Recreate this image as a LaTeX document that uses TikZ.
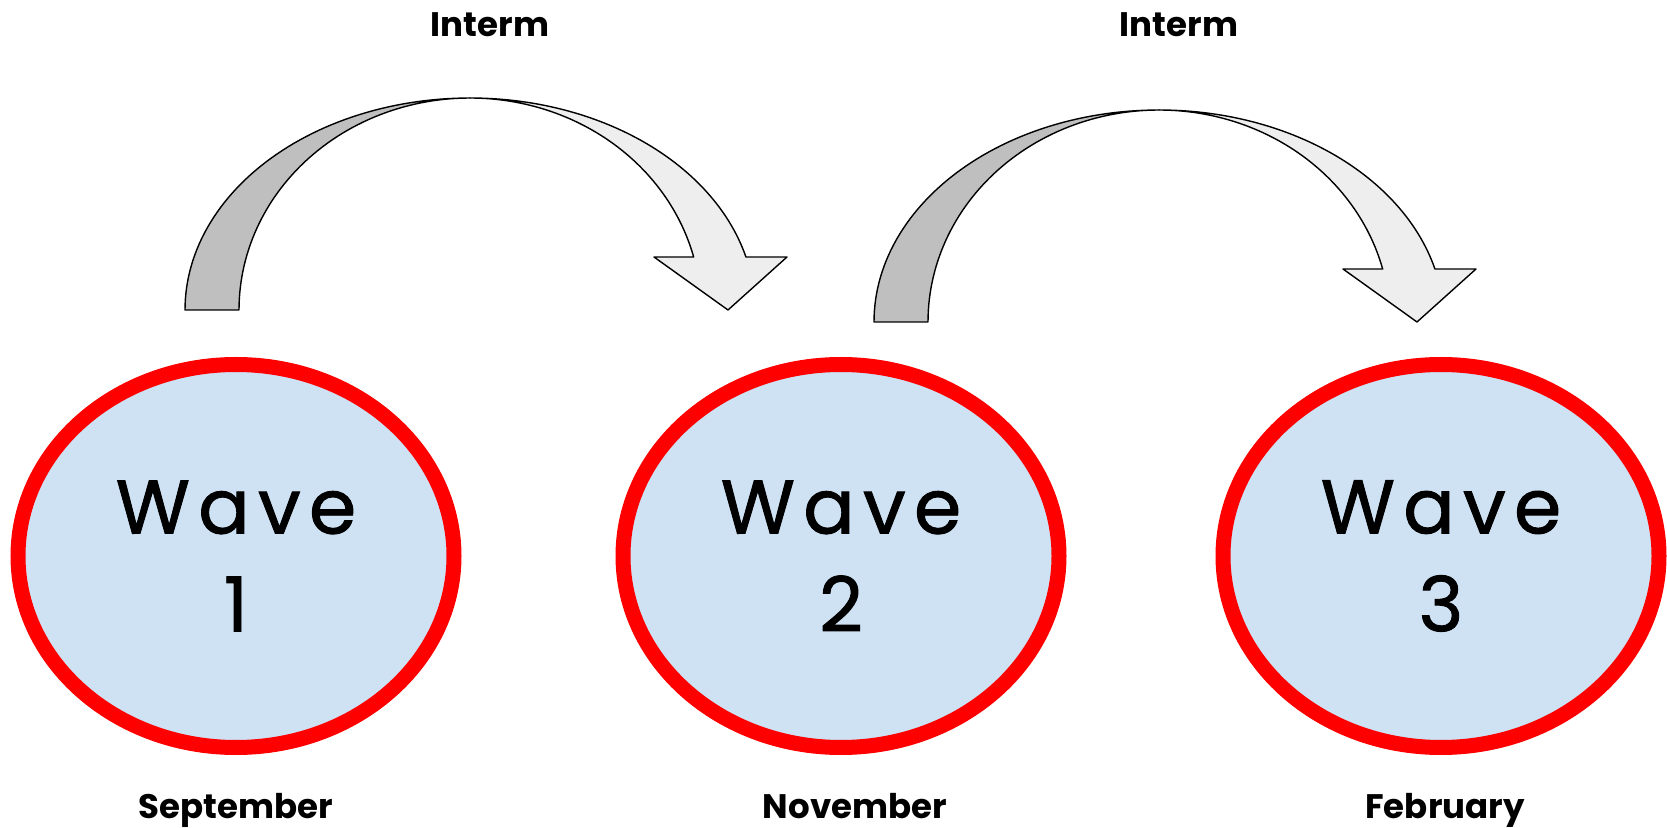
\documentclass[tikz,border=0pt]{standalone}
\usepackage{fontspec}
\setmainfont{Poppins}
\newfontfamily\wavefont{Poppins}[LetterSpace=11, FakeBold=1.2]
\usetikzlibrary{shapes.geometric}

\definecolor{waveRed}{RGB}{255,0,0}
\definecolor{waveBlue}{RGB}{207,226,243}
\definecolor{arrowDark}{RGB}{191,191,191}
\definecolor{arrowLight}{RGB}{238,238,238}

\tikzset{
  wavebubble/.style={ellipse, draw=waveRed, line width=7.5pt, fill=waveBlue,
    minimum width=218pt, minimum height=191.5pt, inner sep=0pt,
    align=center, font=\wavefont\fontsize{38}{49}\selectfont},
  toplabel/.style={anchor=base, font=\bfseries\fontsize{17}{20}\selectfont},
  monthlabel/.style={anchor=base, font=\bfseries\fontsize{17}{20}\selectfont},
  arrowline/.style={draw=black, line width=0.7pt, line join=round},
  % curved block arrow: a twisted band between two half ellipses with a head
  bendarrow/.pic={
    \path[arrowline, fill=arrowDark]
      plot[domain=180:90, samples=60] ({285*cos(\x)}, {-212*sin(\x)})
      -- plot[domain=90:180, samples=60] ({231*cos(\x)}, {-212*sin(\x)})
      -- cycle;
    \path[arrowline, fill=arrowLight]
      plot[domain=90:14.48, samples=60] ({285*cos(\x)}, {-212*sin(\x)})
      -- (317,-53) -- (258,0) -- (184,-53)
      -- plot[domain=14.48:90, samples=60] ({231*cos(\x)}, {-212*sin(\x)})
      -- cycle;
  }
}

\begin{document}
\begin{tikzpicture}[x=0.5pt, y=-0.5pt]
  \useasboundingbox (0,0) rectangle (1667,828);

  % the three waves
  \node[wavebubble] (w1) at (236,556) {Wave\\1};
  \node[wavebubble] (w2) at (841,556) {Wave\\2};
  \node[wavebubble] (w3) at (1441,556) {Wave\\3};

  % curved arrows between the waves
  \pic (a1) at (470,310) {bendarrow};
  \pic (a2) at (1159,322) {bendarrow};

  % labels
  \node[toplabel] (i1) at (490,37) {Interm};
  \node[toplabel] (i2) at (1179,37) {Interm};
  \node[monthlabel] (m1) at (236,818) {September};
  \node[monthlabel] (m2) at (855,818) {November};
  \node[monthlabel] (m3) at (1445,818) {February};
\end{tikzpicture}
\end{document}
